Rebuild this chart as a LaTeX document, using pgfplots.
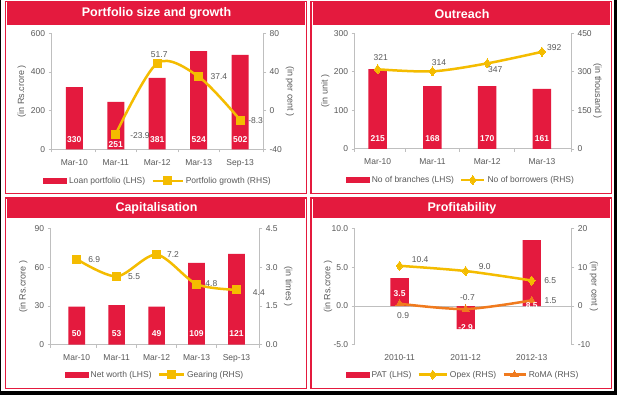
\documentclass[border=0pt]{standalone}
\usepackage{fontspec}
\setmainfont{Liberation Sans}
\usepackage{pgfplots}
\pgfplotsset{compat=1.18}
\definecolor{barred}{HTML}{E41A3E}
\definecolor{frame}{HTML}{E41A3E}
\definecolor{lineyel}{HTML}{F4BC00}
\definecolor{lineora}{HTML}{F07A1E}
\definecolor{axisgray}{HTML}{BFBFBF}
\definecolor{textgray}{HTML}{595959}
\newcommand\fs{\fontsize{8.5}{10.2}\selectfont}
\tikzset{
  barlab/.style={anchor=center, text=white, font=\fs\bfseries, inner sep=0pt},
  datlab/.style={anchor=center, text=textgray, font=\fs, inner sep=0pt},
}
\pgfplotsset{
  base/.style={scale only axis, anchor=south west, clip=false,
    font=\fs,
    every tick label/.append style={text=textgray, font=\fs},
    xticklabel style={yshift=-3.5pt},
    label style={text=textgray, font=\fontsize{9}{11}\selectfont},
    axis line style={-, draw=axisgray, line width=1pt},
    tick style={draw=axisgray, line width=0.8pt},
    tick align=outside, major tick length=3pt, minor tick length=3pt,
    /pgf/number format/assume math mode=true,
    legend style={draw=none, fill=none, legend columns=-1, font=\fs, text=textgray,
      /tikz/every even column/.append style={column sep=4pt}},
  },
  lefta/.style={base, axis y line*=left, axis x line*=bottom, major x tick style={draw=none}},
  righta/.style={base, axis y line*=right, axis x line=none},
  yl/.style={line width=2.5pt, color=lineyel, smooth, mark options={solid, fill=lineyel, draw=lineyel, line width=0pt}},
  ol/.style={line width=2.5pt, color=lineora, smooth, mark options={solid, fill=lineora, draw=lineora, line width=0pt}},
  lineleg/.style={legend image code/.code={\draw[mark repeat=2,mark phase=2,##1] plot coordinates {(0pt,0pt) (#1/2,0pt) (#1,0pt)};}},
  barleg/.style={legend image code/.code={\fill[barred] (0pt,-3pt) rectangle (24pt,3pt);}},
}
\begin{document}
\begin{tikzpicture}[x=1pt,y=1pt]
\path[use as bounding box] (0,0) rectangle (617,395);
\fill[black] (0,0) rectangle (617,395);
\fill[white] (1.3,4.3) rectangle (614,395);
% panel frames
\draw[frame, line width=1.3pt] (5.5,201.5) rectangle (306.5,393.5);
\fill[frame] (7,370) rectangle (305,392.5);
\draw[frame, line width=1.3pt] (311,201.5) rectangle (611.5,393.5);
\fill[frame] (312.5,370) rectangle (610,392.5);
\draw[frame, line width=1.3pt] (5.5,6.5) rectangle (306.5,197);
\fill[frame] (7,177) rectangle (305,196);
\draw[frame, line width=1.3pt] (311,6.5) rectangle (611.5,197);
\fill[frame] (312.5,177) rectangle (610,196);
\node[text=white, font=\fontsize{12.5}{14}\selectfont\bfseries] at (156.5,381.5) {Portfolio size and growth};
\node[text=white, font=\fontsize{12.5}{14}\selectfont\bfseries] at (462,380.5) {Outreach};
\node[text=white, font=\fontsize{12.5}{14}\selectfont\bfseries] at (156.5,186.3) {Capitalisation};
\node[text=white, font=\fontsize{12.5}{14}\selectfont\bfseries] at (462,186.3) {Profitability};

% ---------------- Panel 1 ----------------
\begin{axis}[lefta, at={(51.7pt,245.7pt)}, width=211.3pt, height=116pt,
  xmin=-0.545, xmax=4.55, ymin=0, ymax=600, ytick={0,200,400,600},
  xtick={0,1,2,3,4}, xticklabels={Mar-10,Mar-11,Mar-12,Mar-13,Sep-13},
  minor xtick={-0.545,0.5,1.5,2.5,3.5,4.55},
  ylabel={(in Rs.crore )}, ylabel style={at={(axis description cs:-0.142,0.5)}, anchor=center}]
\addplot[ybar, bar shift=0pt, bar width=17pt, fill=barred, draw=none] coordinates {(0,322) (1,245) (2,369) (3,508) (4,488)};
\addplot[draw=none, nodes near coords, point meta=explicit symbolic, nodes near coords style={barlab}] table[meta=l] {
x y l
0 48 330
1 27 251
2 48 381
3 48 524
4 48 502
};
\end{axis}
\begin{axis}[righta, at={(51.7pt,245.7pt)}, width=211.3pt, height=116pt,
  xmin=-0.545, xmax=4.55, ymin=-40, ymax=80, ytick={-40,0,40,80},
  ylabel={(in per cent )}, ylabel style={at={(axis description cs:1.128,0.5)}, anchor=center, rotate=180},
  legend style={at={(0.503,-0.273)}, anchor=center}]
\addlegendimage{fill=barred, draw=none, barleg}
\addlegendentry{Loan portfolio (LHS)}
\addplot[yl, mark=square*, mark size=4pt, lineleg=30pt] coordinates {(1,-24.2) (2,49) (3,35.1) (4,-9.7)};
\addlegendentry{Portfolio growth (RHS)}
\addplot[draw=none, nodes near coords, point meta=explicit symbolic, nodes near coords style={datlab}] table[meta=l] {
x y l
1.583 -26.2 -23.9
2.048 57.5 51.7
3.487 35.1 37.4
4.371 -10.4 -8.3
};
\end{axis}

% ---------------- Panel 2 ----------------
\begin{axis}[lefta, at={(354.7pt,246pt)}, width=216.3pt, height=115.7pt,
  xmin=-0.42, xmax=3.53, ymin=0, ymax=300, ytick={0,100,200,300},
  xtick={0,1,2,3}, xticklabels={Mar-10,Mar-11,Mar-12,Mar-13},
  minor xtick={-0.42,0.5,1.5,2.5,3.53},
  ylabel={(in unit )}, ylabel style={at={(axis description cs:-0.136,0.5)}, anchor=center}]
\addplot[ybar, bar shift=0pt, bar width=18.5pt, fill=barred, draw=none] coordinates {(0,207) (1,163) (2,163) (3,155.6)};
\addplot[draw=none, nodes near coords, point meta=explicit symbolic, nodes near coords style={barlab}] table[meta=l] {
x y l
0 27.7 215
1 27.7 168
2 27.7 170
3 27.7 161
};
\end{axis}
\begin{axis}[righta, at={(354.7pt,246pt)}, width=216.3pt, height=115.7pt,
  xmin=-0.42, xmax=3.53, ymin=0, ymax=450, ytick={0,150,300,450},
  ylabel={(in thousand )}, ylabel style={at={(axis description cs:1.122,0.5)}, anchor=center, rotate=180},
  legend style={at={(0.491,-0.268)}, anchor=center}]
\addlegendimage{fill=barred, draw=none, barleg}
\addlegendentry{No of branches (LHS)}
\addplot[yl, mark=diamond*, mark size=4.5pt, lineleg=23pt] coordinates {(0,310) (1,302) (2,333) (3,378)};
\addlegendentry{No of borrowers (RHS)}
\addplot[draw=none, nodes near coords, point meta=explicit symbolic, nodes near coords style={datlab}] table[meta=l] {
x y l
0.055 355 321
1.119 337 314
2.148 307 347
3.223 395.5 392
};
\end{axis}

% ---------------- Panel 3 ----------------
\begin{axis}[lefta, at={(50.7pt,50.3pt)}, width=208.6pt, height=116pt,
  xmin=-0.65, xmax=4.57, ymin=0, ymax=90, ytick={0,30,60,90},
  xtick={0,1,2,3,4}, xticklabels={Mar-10,Mar-11,Mar-12,Mar-13,Sep-13},
  minor xtick={-0.65,0.5,1.5,2.5,3.5,4.57},
  ylabel={(in Rs.crore )}, ylabel style={at={(axis description cs:-0.131,0.5)}, anchor=center}]
\addplot[ybar, bar shift=0pt, bar width=16.7pt, fill=barred, draw=none] coordinates {(0,29.5) (1,30.8) (2,29.5) (3,63.4) (4,70.4)};
\addplot[draw=none, nodes near coords, point meta=explicit symbolic, nodes near coords style={barlab}] table[meta=l] {
x y l
0 8.3 50
1 8.3 53
2 8.3 49
3 8.3 109
4 8.3 121
};
\end{axis}
\begin{axis}[righta, at={(50.7pt,50.3pt)}, width=208.6pt, height=116pt,
  xmin=-0.65, xmax=4.57, ymin=0, ymax=4.5, ytick={0,1.5,3,4.5},
  yticklabel style={/pgf/number format/.cd, fixed, fixed zerofill, precision=1},
  ylabel={(in times )}, ylabel style={at={(axis description cs:1.139,0.5)}, anchor=center, rotate=180},
  legend style={at={(0.5,-0.259)}, anchor=center}]
\addlegendimage{fill=barred, draw=none, barleg}
\addlegendentry{Net worth (LHS)}
\addplot[yl, mark=square*, mark size=4pt, lineleg=25pt] coordinates {(0,3.32) (1,2.65) (2,3.49) (3,2.35) (4,2.13)};
\addlegendentry{Gearing (RHS)}
\addplot[draw=none, nodes near coords, point meta=explicit symbolic, nodes near coords style={datlab}] table[meta=l] {
x y l
0.4375 3.30 6.9
1.4375 2.65 5.5
2.41 3.49 7.2
3.37 2.37 4.8
4.56 2.04 4.4
};
\end{axis}

% ---------------- Panel 4 ----------------
\begin{axis}[lefta, at={(354.7pt,50.3pt)}, width=216.6pt, height=116pt,
  xmin=-0.68, xmax=2.6, ymin=-5, ymax=10, ytick={-5,0,5,10},
  yticklabel style={/pgf/number format/.cd, fixed, fixed zerofill, precision=1},
  xtick={0,1,2}, xticklabels={2010-11,2011-12,2012-13},
  x axis line style={draw=none},
  extra y ticks={0}, extra y tick labels={},
  extra y tick style={grid=major, major grid style={draw=axisgray, line width=1pt}, major tick length=0pt},
  ylabel={(in Rs.crore )}, ylabel style={at={(axis description cs:-0.123,0.5)}, anchor=center}]
\addplot[ybar, bar shift=0pt, bar width=18.3pt, fill=barred, draw=none] coordinates {(0,3.6) (1,-3.0) (2,8.53)};
\end{axis}
\begin{axis}[righta, at={(354.7pt,50.3pt)}, width=216.6pt, height=116pt,
  xmin=-0.68, xmax=2.6, ymin=-10, ymax=20, ytick={-10,0,10,20},
  ylabel={(in per cent )}, ylabel style={at={(axis description cs:1.105,0.5)}, anchor=center, rotate=180},
  legend style={at={(0.5,-0.259)}, anchor=center}]
\addlegendimage{fill=barred, draw=none, barleg}
\addlegendentry{PAT (LHS)}
\addplot[yl, mark=diamond*, mark size=4.5pt, lineleg=28pt] coordinates {(0,10.4) (1,9.05) (2,6.6)};
\addlegendentry{Opex (RHS)}
\addplot[ol, mark=triangle*, mark size=4.2pt, lineleg=22pt] coordinates {(0,0.6) (1,-0.78) (2,1.47)};
\addlegendentry{RoMA (RHS)}
\addplot[draw=none, nodes near coords, point meta=explicit symbolic, nodes near coords style={datlab}] table[meta=l] {
x y l
0.31 11.9 10.4
1.288 10.1 9.0
2.28 6.54 6.5
0.053 -2.4 0.9
1.027 2.07 -0.7
2.285 1.37 1.5
};
% bar value labels of PAT, on the right scale (right = 2 x left)
\addplot[draw=none, nodes near coords, point meta=explicit symbolic, nodes near coords style={barlab}] table[meta=l] {
x y l
0 3.1 3.5
1 -5.7 -2.9
2 0.18 8.5
};
\end{axis}
\end{tikzpicture}
\end{document}
